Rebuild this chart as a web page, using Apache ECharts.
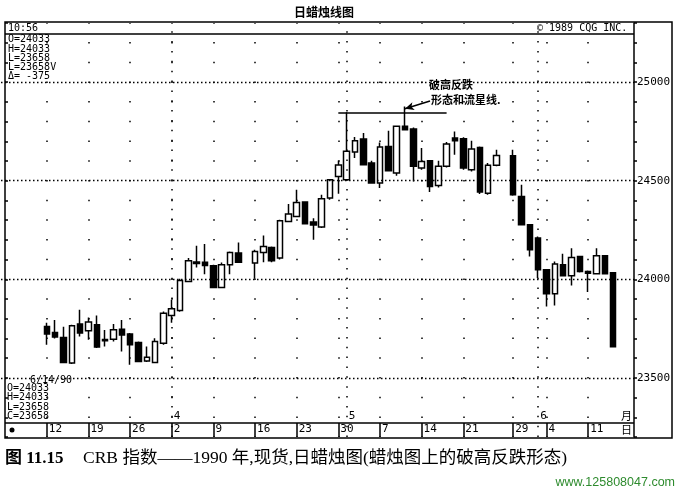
<!DOCTYPE html>
<html><head><meta charset="utf-8">
<script src="https://cdn.jsdelivr.net/npm/echarts@6/dist/echarts.min.js"></script>
<style>html,body{margin:0;padding:0;background:#fff}#c{width:678px;height:493px}</style>
</head><body><div id="c"></div>
<script>
// ---- data ----
const leadPad = ['3/5','3/6','3/7','3/8','3/9'];
const trailPad = ['6/15','6/18'];
const dates = ['3/12','3/13','3/14','3/15','3/16','3/19','3/20','3/21','3/22','3/23',
  '3/26','3/27','3/28','3/29','3/30','4/2','4/3','4/4','4/5','4/6',
  '4/9','4/10','4/11','4/12','4/13','4/16','4/17','4/18','4/19','4/20',
  '4/23','4/24','4/25','4/26','4/27','4/30','5/1','5/2','5/3','5/4',
  '5/7','5/8','5/9','5/10','5/11','5/14','5/15','5/16','5/17','5/18',
  '5/21','5/22','5/23','5/24','5/25','5/28','5/29','5/30','5/31','6/1',
  '6/4','6/5','6/6','6/7','6/8','6/11','6/12','6/13','6/14'];
const opens = [23760,23730,23705,23575,23773,23739,23769,23695,23696,23747,
  23722,23679,23586,23578,23676,23816,23842,23989,24088,24087,
  24069,23958,24074,24133,null,24082,24136,24161,24108,24293,
  24319,24392,24290,24265,24412,24522,24505,24646,24712,24590,
  24488,24674,24539,24776,24762,24564,24601,24476,24573,24717,
  24713,24556,24669,24437,24578,null,24627,24420,24277,24209,
  24048,23926,24074,24018,24116,24040,24028,24119,24033];
const closes = [23723,23707,23578,23764,23727,23783,23656,23688,23744,23718,
  23668,23583,23604,23684,23828,23850,23994,24094,24080,24070,
  23958,24074,24136,24087,null,24141,24166,24094,24297,24331,
  24390,24282,24275,24409,24505,24580,24649,24703,24581,24488,
  24671,24551,24776,24759,24573,24598,24471,24573,24686,24703,
  24564,24661,24443,24578,24628,null,24429,24277,24150,24048,
  23926,24077,24018,24111,24040,24031,24119,24028,23658];
const lows = [23668,23700,23575,23570,23710,23693,23651,23659,23684,23634,
  23566,23580,23580,23575,23668,23779,23835,23985,24060,24026,
  23955,23955,24026,24085,null,24003,24087,24087,24100,24290,
  24315,24280,24200,24260,24403,24434,24500,24615,24578,24485,
  24463,24548,24525,24755,24496,24556,24443,24466,24567,24632,
  24556,24547,24432,24429,24573,null,24424,24275,24116,24006,
  23862,23867,24015,23969,24035,23935,24025,24025,23658];
const highs = [23779,23794,23759,23770,23845,23806,23816,23743,23773,23794,
  23728,23685,23659,23701,23837,23896,24003,24108,24170,24179,
  24074,24085,24141,24187,null,24150,24222,24166,24302,24382,
  24454,24395,24310,24429,24509,24603,24847,24722,24742,24601,
  24694,24754,24779,24877,24770,24666,24605,24601,24696,24750,
  24720,24703,24674,24590,24657,null,24657,24480,24155,24217,
  24052,24090,24129,24158,24119,24045,24158,24122,24033];
const weekTickDates = ['3/12','3/19','3/26','4/2','4/9','4/16','4/23','4/30','5/7','5/14','5/21','5/29','6/4','6/11'];
const weekTickLabels = ['12','19','26','2','9','16','23','30','7','14','21','29','4','11'];
const monthStartDates = ['4/2','5/1','6/1'];
const monthLabels = ['4','5','6'];
const priceLevels = [23500,24000,24500,25000];
const yMin = 23200, yMax = 25300, yStep = 100;
const patternStart = '4/30', patternEnd = '5/17', patternHighDate = '5/1', starDate = '5/10';

// ---- build ----
const categories = leadPad.concat(dates, trailPad);
const candleData = categories.map(d => {
  const i = dates.indexOf(d);
  if (i < 0 || opens[i] == null) return '-';
  return [opens[i], closes[i], lows[i], highs[i]];
});
const last = dates.length - 1;
const lastO = opens[last], lastH = highs[last], lastL = lows[last], lastC = closes[last];
const patternHigh = highs[dates.indexOf(patternHighDate)];
const starHigh = highs[dates.indexOf(starDate)];
const isWeek = (idx, v) => weekTickDates.indexOf(v) >= 0;
const isMonth = (idx, v) => monthStartDates.indexOf(v) >= 0;
const empty = categories.map(() => '-');
const mono = 'DejaVu Sans Mono';

const chart = echarts.init(document.getElementById('c'), null, {renderer: 'canvas'});
chart.setOption({
  animation: false,
  backgroundColor: '#fff',
  grid: {left: 1, right: 44, top: 23, bottom: 56},
  xAxis: [{
    type: 'category', data: categories, boundaryGap: true, position: 'bottom',
    axisLine: {show: false},
    axisTick: {show: true, interval: isWeek, alignWithLabel: true, inside: true, length: 14,
      lineStyle: {color: '#000', width: 1.5}},
    axisLabel: {show: true, interval: isWeek, inside: true, margin: 2, align: 'left', padding: [0,0,0,2],
      formatter: v => weekTickLabels[weekTickDates.indexOf(v)] || '',
      fontFamily: mono, fontSize: 11, color: '#000'},
    splitLine: {show: true, interval: isWeek, alignWithLabel: true,
      lineStyle: {color: '#000', width: 1.5, type: [1.5, 18.21], dashOffset: 0.75}}
  }, {
    type: 'category', data: categories, boundaryGap: true, position: 'bottom',
    axisLine: {show: false}, axisTick: {show: false}, splitLine: {show: false},
    axisLabel: {show: true, interval: isMonth, inside: true, margin: 15, align: 'left', padding: [0,0,0,2],
      formatter: v => monthLabels[monthStartDates.indexOf(v)] || '',
      fontFamily: mono, fontSize: 11, color: '#000'}
  }],
  yAxis: [{
    type: 'value', position: 'right', min: yMin, max: yMax, interval: yStep, scale: true,
    axisLine: {show: true, lineStyle: {color: '#000', width: 1.5}},
    axisTick: {show: true, length: 3, lineStyle: {color: '#000', width: 1.5}},
    axisLabel: {show: true, margin: 3, fontFamily: mono, fontSize: 11, color: '#000',
      formatter: v => (v % 500 === 0 ? String(v) : '')},
    splitLine: {show: false}
  }, {
    type: 'value', position: 'left', offset: -4, min: yMin, max: yMax, interval: yStep, scale: true,
    axisLine: {show: false},
    axisTick: {show: true, inside: true, length: 3, lineStyle: {color: '#000', width: 1.5}},
    axisLabel: {show: false}, splitLine: {show: false}
  }],
  series: [{
    type: 'line', data: empty, z: 1, silent: true, symbol: 'none',
    markLine: {silent: true, symbol: ['none','none'], label: {show: false},
      lineStyle: {color: '#000', width: 1.3, type: [1.5, 2.5]},
      data: priceLevels.map(v => ({yAxis: v}))}
  }, {
    type: 'line', data: empty, z: 1, silent: true, symbol: 'none',
    markLine: {silent: true, symbol: ['none','none'], label: {show: false},
      lineStyle: {color: '#000', width: 1.5, type: [1.5, 8.36]},
      data: monthStartDates.map(d => ({xAxis: d}))}
  }, {
    type: 'candlestick', data: candleData, z: 3, barWidth: 6,
    itemStyle: {color: '#fff', color0: '#000', borderColor: '#000', borderColor0: '#000', borderWidth: 1.5},
    markLine: {silent: true, symbol: ['none','none'], label: {show: false}, animation: false,
      lineStyle: {color: '#000', width: 1.5, type: 'solid'},
      data: [
        [{coord: [patternStart, patternHigh]}, {coord: [patternEnd, patternHigh]}],
        [{coord: [starDate, starHigh - 12], symbol: 'arrow', symbolSize: [6, 9]}, {x: 430, y: 101, symbol: 'none'}]
      ]}
  }],
  graphic: [
    {type: 'rect', shape: {x: 5, y: 22, width: 667, height: 416}, style: {fill: 'none', stroke: '#000', lineWidth: 1.5}, z: 10},
    {type: 'line', shape: {x1: 5, y1: 34, x2: 634, y2: 34}, style: {stroke: '#000', lineWidth: 1.5}, z: 10},
    {type: 'line', shape: {x1: 5, y1: 423, x2: 634, y2: 423}, style: {stroke: '#000', lineWidth: 1.5}, z: 10},
    {type: 'circle', shape: {cx: 12, cy: 430, r: 2.5}, style: {fill: '#000'}, z: 10},
    {type: 'text', x: 324, y: 6, style: {text: '日蜡烛线图', font: 'bold 12px "Noto Sans CJK SC"', fill: '#000', align: 'center'}, z: 10},
    {type: 'text', x: 8, y: 23, style: {text: '10:56', font: '10px "DejaVu Sans Mono"', fill: '#000'}, z: 10},
    {type: 'text', x: 537, y: 23, style: {text: '© 1989 CQG INC.', font: '10px "DejaVu Sans Mono"', fill: '#000'}, z: 10},
    {type: 'text', x: 8, y: 35, style: {text: 'O=' + lastO + '\nH=' + lastH + '\nL=' + lastL + '\nL=' + lastC + 'V\nΔ= ' + (lastC - lastO),
      font: '10px "DejaVu Sans Mono"', lineHeight: 9.3, fill: '#000'}, z: 10},
    {type: 'text', x: 30, y: 375, style: {text: dates[last] + '/90', font: '10px "DejaVu Sans Mono"', fill: '#000'}, z: 10},
    {type: 'text', x: 7, y: 384, style: {text: 'O=' + lastO + '\nH=' + lastH + '\nL=' + lastL + '\nC=' + lastC,
      font: '10px "DejaVu Sans Mono"', lineHeight: 9.2, fill: '#000'}, z: 10},
    {type: 'text', x: 621, y: 410, style: {text: '月', font: '11px "Noto Sans CJK SC"', fill: '#000'}, z: 10},
    {type: 'text', x: 621, y: 424, style: {text: '日', font: '11px "Noto Sans CJK SC"', fill: '#000'}, z: 10},
    {type: 'text', x: 429, y: 79, style: {text: '破高反跌', font: 'bold 11px "Noto Sans CJK SC"', fill: '#000'}, z: 10},
    {type: 'text', x: 431, y: 94, style: {text: '形态和流星线.', font: 'bold 11px "Noto Sans CJK SC"', fill: '#000'}, z: 10},
    {type: 'text', x: 5, y: 450, style: {text: '图 11.15',
      font: 'bold 17px "Liberation Serif", "Noto Sans CJK SC"', fill: '#000'}, z: 10},
    {type: 'text', x: 83, y: 450, style: {text: 'CRB 指数——1990 年,现货,日蜡烛图(蜡烛图上的破高反跌形态)',
      font: '17.5px "Liberation Serif", "Noto Sans CJK SC"', fill: '#000'}, z: 10},
    {type: 'text', x: 675, y: 476, style: {text: 'www.125808047.com', font: '12.5px "Liberation Sans"', fill: '#2e8b2e', align: 'right'}, z: 10}
  ]
});
</script></body></html>
